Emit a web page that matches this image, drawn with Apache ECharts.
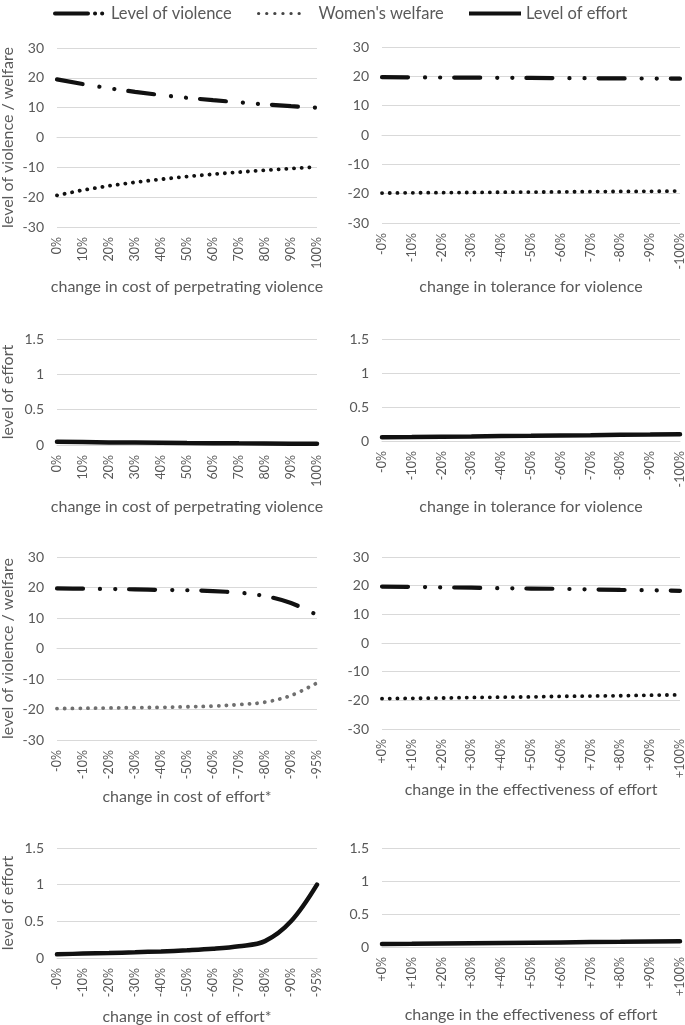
<!DOCTYPE html>
<html><head><meta charset="utf-8">
<script src="https://cdn.jsdelivr.net/npm/echarts@6/dist/echarts.min.js"></script>
<style>html,body{margin:0;padding:0;background:#fff}#c{width:685px;height:1025px}</style>
</head><body><div id="c"></div><script>
// ---- categories (tick labels) ----
const catCostViolence = ['0%','10%','20%','30%','40%','50%','60%','70%','80%','90%','100%'];
const catTolerance = ['-0%','-10%','-20%','-30%','-40%','-50%','-60%','-70%','-80%','-90%','-100%'];
const catCostEffort = ['-0%','-10%','-20%','-30%','-40%','-50%','-60%','-70%','-80%','-90%','-95%'];
const catEffectiveness = ['+0%','+10%','+20%','+30%','+40%','+50%','+60%','+70%','+80%','+90%','+100%'];

// ---- axis titles ----
const xTitles = ['change in cost of perpetrating violence','change in tolerance for violence',
  'change in cost of perpetrating violence','change in tolerance for violence',
  'change in cost of effort*','change in the effectiveness of effort',
  'change in cost of effort*','change in the effectiveness of effort'];
const yTitleVW = 'level of violence / welfare';
const yTitleEffort = 'level of effort';

// ---- series values ----
const violenceCostViolence = [19.5, 17.9, 16.5, 15.3, 14.2, 13.3, 12.5, 11.8, 11.1, 10.5, 10.0];
const welfareCostViolence  = [-19.4, -17.6, -16.2, -15.0, -14.0, -13.1, -12.3, -11.6, -11.0, -10.4, -9.9];
const effortCostViolence   = [0.045, 0.041, 0.037, 0.034, 0.031, 0.028, 0.026, 0.023, 0.021, 0.019, 0.017];

const violenceTolerance = [19.7, 19.65, 19.6, 19.55, 19.5, 19.45, 19.4, 19.35, 19.3, 19.25, 19.2];
const welfareTolerance  = [-19.8, -19.7, -19.65, -19.6, -19.5, -19.45, -19.4, -19.3, -19.25, -19.2, -19.1];
const effortTolerance   = [0.055, 0.059, 0.064, 0.068, 0.073, 0.077, 0.082, 0.086, 0.091, 0.095, 0.100];

const violenceCostEffort = [19.7, 19.6, 19.5, 19.4, 19.2, 19.1, 18.8, 18.3, 17.2, 14.9, 11.0];
const welfareCostEffort  = [-19.7, -19.6, -19.5, -19.4, -19.3, -19.1, -18.9, -18.4, -17.6, -15.4, -11.3];
const effortCostEffort   = [0.05, 0.06, 0.068, 0.078, 0.09, 0.105, 0.125, 0.16, 0.23, 0.5, 1.0];

const violenceEffectiveness = [19.7, 19.6, 19.4, 19.3, 19.1, 19.0, 18.9, 18.7, 18.5, 18.4, 18.2];
const welfareEffectiveness  = [-19.4, -19.3, -19.2, -19.0, -18.9, -18.8, -18.6, -18.5, -18.4, -18.2, -18.1];
const effortEffectiveness   = [0.045, 0.049, 0.054, 0.058, 0.062, 0.066, 0.070, 0.074, 0.078, 0.083, 0.087];

const FONT = 'Lato';
const TXT = '#595959';
const GRIDC = '#d9d9d9';
const NV = 'Level of violence', NW = "Women's welfare", NE = 'Level of effort';

const grids = [
  {left: 57, width: 260, top: 48, height: 179},
  {left: 382, width: 298, top: 47, height: 176},
  {left: 57, width: 260, top: 339, height: 106},
  {left: 382, width: 298, top: 339, height: 102},
  {left: 57, width: 260, top: 557, height: 183},
  {left: 382, width: 298, top: 557, height: 172},
  {left: 57, width: 260, top: 848, height: 110},
  {left: 382, width: 298, top: 848, height: 99}
].map(g => Object.assign({containLabel: false, outerBoundsMode: 'none'}, g));

const cats = [catCostViolence, catTolerance, catCostViolence, catTolerance,
              catCostEffort, catEffectiveness, catCostEffort, catEffectiveness];
const nameGaps = [52, 56, 54, 58, 49, 47, 51, 60];

const xAxes = cats.map((c, i) => ({
  type: 'category', gridIndex: i, data: c, boundaryGap: false,
  axisLine: {show: true, lineStyle: {color: GRIDC, width: 1}},
  axisTick: {show: false},
  axisLabel: {rotate: 90, interval: 0, margin: 10, color: TXT, fontFamily: FONT, fontSize: 12.5},
  name: xTitles[i], nameLocation: 'middle', nameGap: nameGaps[i],
  nameTextStyle: {color: TXT, fontFamily: FONT, fontSize: 16}
}));

const yAxes = [0,1,2,3,4,5,6,7].map(i => {
  const vw = (i === 0 || i === 1 || i === 4 || i === 5);
  const ax = {
    type: 'value', gridIndex: i,
    min: vw ? -30 : 0, max: vw ? 30 : 1.5, interval: vw ? 10 : 0.5,
    axisLine: {show: false}, axisTick: {show: false},
    splitLine: {lineStyle: {color: GRIDC, width: 1}},
    axisLabel: {color: TXT, fontFamily: FONT, fontSize: 14, margin: 13}
  };
  if (i % 2 === 0) {
    ax.name = vw ? yTitleVW : yTitleEffort;
    ax.nameLocation = 'middle';
    ax.nameGap = 41;
    ax.nameTextStyle = {color: TXT, fontFamily: FONT, fontSize: 16};
  }
  return ax;
});

const violenceDash = [26, 17, 0.1, 15, 0.1, 14];
const welfareDash = [0.1, 7.6];

function vSeries(i, data) {
  return {name: NV, type: 'line', xAxisIndex: i, yAxisIndex: i, data, symbol: 'none', color: '#111',
    smooth: i === 4 ? 0.35 : false,
    lineStyle: {color: '#111', width: 4.2, type: violenceDash, cap: 'round'}};
}
function wSeries(i, data, color) {
  return {name: NW, type: 'line', xAxisIndex: i, yAxisIndex: i, data, symbol: 'none', color: '#111',
    smooth: i === 4 ? 0.35 : false,
    lineStyle: {color: color || '#111', width: 3.8, type: welfareDash, cap: 'round'}};
}
function eSeries(i, data) {
  return {name: NE, type: 'line', xAxisIndex: i, yAxisIndex: i, data, symbol: 'none', color: '#111',
    smooth: i === 6 ? 0.35 : false,
    lineStyle: {color: '#111', width: 4.5, cap: 'round'}};
}

const series = [
  vSeries(0, violenceCostViolence), wSeries(0, welfareCostViolence),
  vSeries(1, violenceTolerance), wSeries(1, welfareTolerance),
  eSeries(2, effortCostViolence),
  eSeries(3, effortTolerance),
  vSeries(4, violenceCostEffort), wSeries(4, welfareCostEffort, '#6f6f6f'),
  vSeries(5, violenceEffectiveness), wSeries(5, welfareEffectiveness),
  eSeries(6, effortCostEffort),
  eSeries(7, effortEffectiveness)
];

const legendText = {color: TXT, fontFamily: FONT, fontSize: 16.5};
const hiddenSym = {opacity: 0, color: 'transparent', borderWidth: 0};
const legends = [
  {left: 48, itemWidth: 51, name: NV,
   lineStyle: {color: '#111', width: 4, type: [33, 7, 0.1, 7, 0.1, 30], cap: 'round'}},
  {left: 252, itemWidth: 55, name: NW,
   lineStyle: {color: '#444', width: 3.2, type: [0.1, 8, 0.1, 8, 0.1, 8, 0.1, 8, 0.1, 8, 0.1, 40], cap: 'round'}},
  {left: 462, itemWidth: 52, name: NE,
   lineStyle: {color: '#111', width: 4, type: 'solid', cap: 'butt'}}
].map(l => ({
  top: 0, left: l.left, itemWidth: l.itemWidth, itemHeight: 16,
  textStyle: legendText, selectedMode: false,
  data: [{name: l.name, lineStyle: l.lineStyle, itemStyle: hiddenSym}]
}));

const chart = echarts.init(document.getElementById('c'), null, {renderer: 'canvas'});
chart.setOption({
  animation: false,
  backgroundColor: '#fff',
  legend: legends,
  grid: grids,
  xAxis: xAxes,
  yAxis: yAxes,
  series
});
</script></body></html>
